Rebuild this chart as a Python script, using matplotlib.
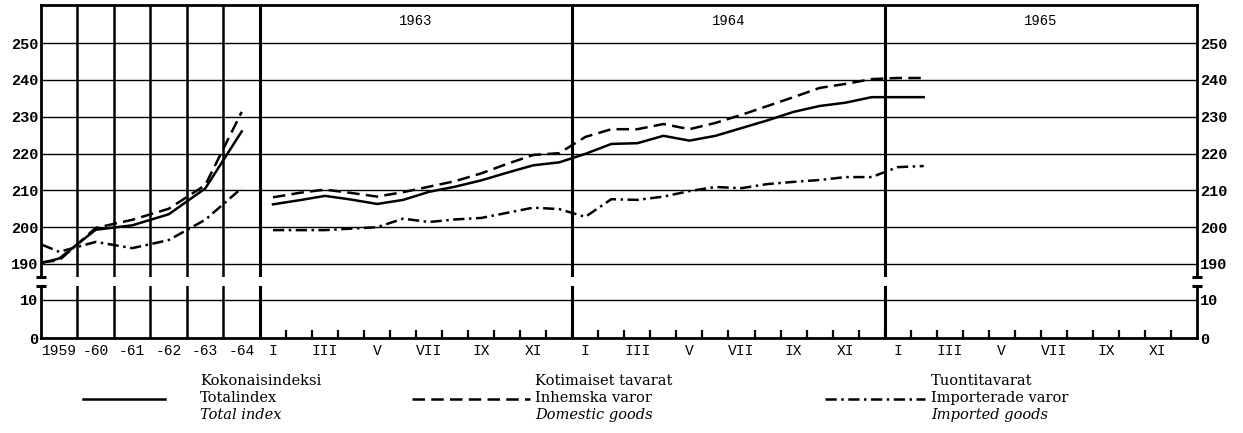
import numpy as np
import matplotlib
matplotlib.use("Agg")
import matplotlib.pyplot as plt
from matplotlib.lines import Line2D

# Annual averages 1959-1964 (first value = start of line at left edge)
years = ["1959", "-60", "-61", "-62", "-63", "-64"]
annual_total = [190.3, 191.5, 199.3, 200.5, 203.5, 210.5, 226.0]
annual_domestic = [190.5, 191.0, 199.8, 202.0, 205.0, 211.4, 231.3]
annual_imported = [195.2, 193.3, 196.0, 194.3, 196.5, 202.0, 210.6]

# Monthly values Jan 1963 - Feb 1965
month_labels = ["I", "", "III", "", "V", "", "VII", "", "IX", "", "XI", ""] * 3
month_years = ["1963", "1964", "1965"]
monthly_total = [206.2, 207.3, 208.5, 207.5, 206.3, 207.4, 209.6, 211.0, 212.7, 214.8, 216.8, 217.6,
                 219.9, 222.6, 222.8, 224.8, 223.5, 224.8, 226.9, 229.0, 231.3, 232.9, 233.8, 235.3,
                 235.3, 235.3]
monthly_domestic = [208.1, 209.3, 210.2, 209.3, 208.3, 209.5, 211.0, 212.5, 214.6, 217.2, 219.6, 220.1,
                    224.5, 226.6, 226.6, 228.0, 226.6, 228.3, 230.5, 232.9, 235.3, 237.8, 238.9, 240.2,
                    240.5, 240.5]
monthly_imported = [199.2, 199.2, 199.2, 199.6, 200.0, 202.3, 201.4, 202.1, 202.5, 203.9, 205.3, 204.9,
                    202.8, 207.6, 207.4, 208.3, 209.8, 210.9, 210.6, 211.7, 212.3, 212.8, 213.6, 213.6,
                    216.3, 216.6]

legend_fi = ["Kokonaisindeksi", "Kotimaiset tavarat", "Tuontitavarat"]
legend_sv = ["Totalindex", "Inhemska varor", "Importerade varor"]
legend_en = ["Total index", "Domestic goods", "Imported goods"]

W, H = 1243, 433
fig = plt.figure(figsize=(W / 100, H / 100), dpi=100)

# x in "month" units: each annual column is 1.402 months wide
w = 1.402
x0 = 6 * w
xmax = x0 + 36
xa = np.concatenate([[0.05], (np.arange(6) + 0.5) * w])
xm = x0 + np.arange(len(monthly_total)) + 0.5

ax1 = fig.add_axes([41 / W, 1 - 277 / H, 1156 / W, 272 / H])
ax2 = fig.add_axes([41 / W, 1 - 338 / H, 1156 / W, 52 / H])

styles = {
    "total": dict(color="black", lw=1.8, linestyle="-"),
    "domestic": dict(color="black", lw=1.8, linestyle=(0, (5, 2.5))),
    "imported": dict(color="black", lw=1.8, linestyle=(0, (4.5, 1.8, 1, 1.8))),
}

ax1.plot(xa, annual_total, **styles["total"])
ax1.plot(xa, annual_domestic, **styles["domestic"])
ax1.plot(xa, annual_imported, **styles["imported"])
ax1.plot(xm, monthly_total, **styles["total"])
ax1.plot(xm, monthly_domestic, **styles["domestic"])
ax1.plot(xm, monthly_imported, **styles["imported"])

ax1.set_ylim(186.47, 260.32)
ax2.set_ylim(0, 13.68)
tickfont = dict(family="Liberation Mono", weight="bold", size=11)

for ax in (ax1, ax2):
    ax.set_xlim(0, xmax)
    for k in range(1, 6):
        ax.axvline(k * w, color="black", lw=1.8)
    for k in range(3):
        ax.axvline(x0 + 12 * k, color="black", lw=2.2)
    for s in ax.spines.values():
        s.set_linewidth(2)
    ax.tick_params(axis="y", length=0, pad=2, labelright=True, right=True)

ax1.set_yticks(np.arange(190, 251, 10))
ax1.grid(axis="y", color="black", lw=1)
ax1.spines["bottom"].set_visible(False)
ax1.set_xticks([])
ax1.set_yticklabels([str(v) for v in range(190, 251, 10)], **tickfont)

ax2.set_yticks([0, 10])
ax2.set_yticklabels(["0", "10"], **tickfont)
ax2.grid(axis="y", color="black", lw=1)
ax2.spines["top"].set_visible(False)

# x ticks: labels at column centres, small month ticks on the baseline
lab_pos = list((np.arange(6) + 0.5) * w) + list(x0 + np.arange(36) + 0.5)
ax2.set_xticks(lab_pos)
ax2.set_xticklabels(years + month_labels, fontfamily="Liberation Mono", fontsize=10.5)
ax2.tick_params(axis="x", length=0, pad=4)
ax2.set_xticks(x0 + np.arange(1, 36), minor=True)
ax2.tick_params(axis="x", which="minor", direction="in", length=6, width=1.6)

# year headings
for k, yr in enumerate(month_years):
    ax1.text(x0 + 12 * k + 6, 255.9, yr, ha="center", va="center",
             fontfamily="Liberation Mono", fontsize=10)

# break caps on the y-axes
for ax, yy in ((ax1, 0), (ax2, 1)):
    for xx in (0, 1):
        ax.plot([xx - 0.0045, xx + 0.0045], [yy, yy], transform=ax.transAxes,
                color="black", lw=2.2, clip_on=False, solid_capstyle="butt")

# legend
sample_x = [(83, 165), (412, 530), (825, 925)]
text_x = [200, 535, 931]
keys = ["total", "domestic", "imported"]
for i in range(3):
    x1, x2 = sample_x[i]
    fig.add_artist(Line2D([x1 / W, x2 / W], [1 - 399 / H, 1 - 399 / H],
                          transform=fig.transFigure, **styles[keys[i]]))
    tx = text_x[i] / W
    fig.text(tx, 1 - 381 / H, legend_fi[i], fontfamily="DejaVu Serif", fontsize=10.5,
             va="center", ha="left")
    fig.text(tx, 1 - 398 / H, legend_sv[i], fontfamily="DejaVu Serif", fontsize=10.5,
             va="center", ha="left")
    fig.text(tx, 1 - 415 / H, legend_en[i], fontfamily="DejaVu Serif", fontsize=10.5,
             va="center", ha="left", style="italic")

fig.savefig("out.png", dpi=100)
